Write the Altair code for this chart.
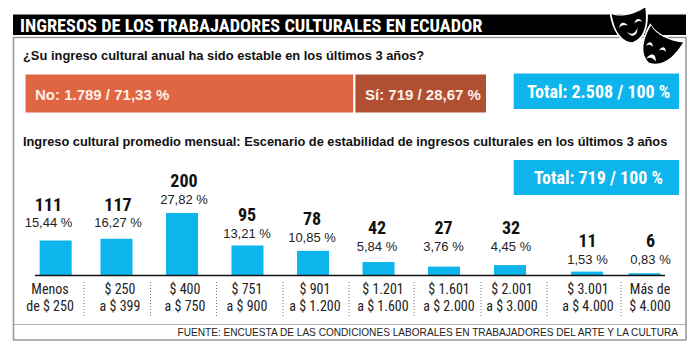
import altair as alt
import pandas as pd

# ---------- data ----------
categories = ["Menos de $ 250", "$ 250 a $ 399", "$ 400 a $ 750", "$ 751 a $ 900", "$ 901 a $ 1.200",
              "$ 1.201 a $ 1.600", "$ 1.601 a $ 2.000", "$ 2.001 a $ 3.000", "$ 3.001 a $ 4.000", "Más de $ 4.000"]
tick_labels = ["Menos\nde $ 250", "$ 250\na $ 399", "$ 400\na $ 750", "$ 751\na $ 900", "$ 901\na $ 1.200",
               "$ 1.201\na $ 1.600", "$ 1.601\na $ 2.000", "$ 2.001\na $ 3.000", "$ 3.001\na $ 4.000", "Más de\n$ 4.000"]
counts = [111, 117, 200, 95, 78, 42, 27, 32, 11, 6]
percents = ["15,44 %", "16,27 %", "27,82 %", "13,21 %", "10,85 %", "5,84 %", "3,76 %", "4,45 %", "1,53 %", "0,83 %"]
answers = ["No", "Sí"]
answer_counts = [1789, 719]
answer_labels = ["No: 1.789 / 71,33 %", "Sí: 719 / 28,67 %"]

df = pd.DataFrame({"cat": categories, "tick": tick_labels, "n": counts, "pct": percents, "i": range(len(categories))})
ans = pd.DataFrame({"a": answers, "n": answer_counts, "label": answer_labels})
ans["start"] = [0, answer_counts[0]]
ans["end"] = [answer_counts[0], answer_counts[0] + answer_counts[1]]

W, H = 684, 337
def X(p): return p - 8
def Y(p): return p - 8

NARROW = "Roboto Condensed"
SANS = "Liberation Sans"
BLUE = "#0DB5EC"
one = pd.DataFrame({"k": [0]})

def box(x0, x1, y0, y1, fill=None, stroke=None, sw=0):
    style = {"color": fill} if fill else {"fillOpacity": 0, "stroke": stroke, "strokeWidth": sw}
    return alt.Chart(one).mark_rect(**style).encode(
        x=alt.value(X(x0)), x2=alt.value(X(x1)), y=alt.value(Y(y0)), y2=alt.value(Y(y1)))

def label(s, x, y, size, font=SANS, bold=True, color="#111111", align="left"):
    return alt.Chart(pd.DataFrame({"t": [s]})).mark_text(
        font=font, fontSize=size, fontWeight="bold" if bold else "normal", color=color,
        align=align, baseline="middle").encode(x=alt.value(X(x)), y=alt.value(Y(y)), text="t:N")

def symbol(path, x, y, size, color, angle=0):
    return alt.Chart(one).mark_point(shape=path, filled=True, color=color, opacity=1, strokeWidth=0,
                                     size=size * size, angle=angle % 360).encode(x=alt.value(X(x)), y=alt.value(Y(y)))

def stops(values, conv):
    return alt.Scale(domain=list(range(len(values))), range=[conv(v) for v in values])

bar_centers = [51, 116.5, 182, 247.5, 313, 378.5, 444, 510, 587, 649]
tick_centers = [50, 120, 185, 247, 315, 383, 449, 512, 588, 650]
n_label_y = [206, 206, 182, 216, 220, 229, 229, 229, 242, 242]
p_label_y = [223, 223, 200, 234, 238, 247, 247, 247, 260, 260]
p_label_x = [48.5, 118, 184, 247, 312, 377, 443.5, 511, 587.5, 650.5]
seps = [84, 150.5, 216.5, 283, 349, 414, 481, 547, 621]

x_bar = alt.X("i:Q", scale=stops(bar_centers, X), axis=None)
x_tick = alt.X("i:Q", scale=stops(tick_centers, X), axis=None)
x_lab = alt.X("i:Q", scale=stops(p_label_x, X), axis=None)
y_val = alt.Y("n:Q", scale=alt.Scale(domain=[0, 200], range=[Y(275), Y(213)]), axis=None)
x_ans = alt.X("start:Q", scale=alt.Scale(domain=[0, 2508], range=[X(24.5), X(487)]), axis=None)

bars = alt.Chart(df).mark_bar(color=BLUE, size=32, orient="vertical").encode(x=x_bar, y=y_val, y2=alt.value(Y(275)))
n_text = alt.Chart(df).mark_text(font=NARROW, fontSize=18, fontWeight="bold", color="#111111").encode(
    x=x_lab, y=alt.Y("i:Q", scale=stops(n_label_y, Y), axis=None), text="n:Q")
p_text = alt.Chart(df).mark_text(font=SANS, fontSize=13, color="#222222").encode(
    x=x_lab, y=alt.Y("i:Q", scale=stops(p_label_y, Y), axis=None), text="pct:N")
tick_text = alt.Chart(df).mark_text(font=NARROW, fontSize=14, color="#222222", lineBreak="\n", lineHeight=17,
                                    baseline="middle").encode(x=x_tick, y=alt.value(Y(290)), text="tick:N")
base_line = alt.Chart(one).mark_rule(color="#111111", strokeWidth=1.5).encode(
    x=alt.value(X(35)), x2=alt.value(X(665)), y=alt.value(Y(275.5)))
sep_rules = alt.Chart(pd.DataFrame({"s": [X(v) for v in seps]})).mark_rule(
    color="#777777", strokeWidth=1, strokeDash=[1, 2]).encode(
    x=alt.X("s:Q", scale=alt.Scale(domain=[0, W], range=[0, W]), axis=None), y=alt.value(Y(282)), y2=alt.value(Y(316)))

ans_bars = alt.Chart(ans).mark_bar(stroke="white", strokeWidth=2).encode(
    x=x_ans, x2="end:Q",
    y=alt.value(Y(73.5)), y2=alt.value(Y(113.5)),
    color=alt.Color("a:N", scale=alt.Scale(domain=answers, range=["#E06543", "#B14F33"]), legend=None))

# masks
mask = "M-1,-0.75 C-0.5,-0.5 0.3,-0.6 1,-1 C1.05,-0.1 0.9,0.75 0.1,1 C-0.6,0.9 -0.95,0.1 -1,-0.75 Z"
eye_l = "M-1,0.4 C-0.5,-0.8 0.5,-0.8 1,0.4 C0.4,-0.1 -0.4,-0.1 -1,0.4 Z"
smile = "M-1,-0.5 C-0.4,0.3 0.4,0.3 1,-0.7 C0.8,0.7 -0.5,1 -1,-0.5 Z"
frown = "M-1,0.7 C-0.5,-0.9 0.6,-0.9 1,0.6 C0.4,0.1 -0.4,0.1 -1,0.7 Z"

layers = [
    box(13, 686, 14.5, 35, fill="#000000"),
    box(13.5, 686, 37.5, 340, stroke="#999999", sw=1.6),
    box(13, 686, 324, 324.8, fill="#999999"),
    label("INGRESOS DE LOS TRABAJADORES CULTURALES EN ECUADOR", 20, 25.5, 18.35, NARROW, color="#FFFFFF"),
    label("¿Su ingreso cultural anual ha sido estable en los últimos 3 años?", 23, 56, 12.9),
    ans_bars,
    label(answer_labels[0], 35, 95, 15, color="#FDF0E8"),
    label(answer_labels[1], 365, 95, 15, color="#FDF0E8"),
    box(513.7, 679, 73.5, 109, fill=BLUE),
    label("Total: 2.508 / 100 %", 527, 93, 18, NARROW, color="#FFFFFF"),
    label("Ingreso cultural promedio mensual: Escenario de estabilidad de ingresos culturales en los últimos 3 años", 23, 142, 12.8),
    box(513.7, 679, 160, 195, fill=BLUE),
    label("Total: 719 / 100 %", 534, 179, 18, NARROW, color="#FFFFFF"),
    bars, base_line, sep_rules, n_text, p_text, tick_text,
    label("FUENTE: ENCUESTA DE LAS CONDICIONES LABORALES EN TRABAJADORES DEL ARTE Y LA CULTURA", 177.5, 333, 10.1, bold=False, color="#222222"),
    symbol(mask, 629.5, 25.5, 38, "#FFFFFF", -4),
    symbol(mask, 629.5, 25.5, 34, "#000000", -4),
    symbol(eye_l, 623, 25, 9, "#FFFFFF", -15),
    symbol(eye_l, 638, 21, 8, "#FFFFFF", -15),
    symbol(smile, 633, 33, 11, "#FFFFFF", -15),
    symbol(mask, 658, 47, 40, "#FFFFFF", 35),
    symbol(mask, 658, 47, 36, "#000000", 35),
    symbol(frown, 650, 44, 7, "#FFFFFF", 15),
    symbol(frown, 663, 49, 7, "#FFFFFF", 15),
    symbol(frown, 652, 57, 10, "#FFFFFF", 20),
]

chart = alt.layer(*layers).resolve_scale(x="independent", y="independent", color="independent").properties(
    width=W, height=H, padding=0, background="white", autosize=alt.AutoSizeParams(type="none")
).configure_view(stroke=None)

chart.save("out.html", embed_options={"renderer": "svg", "actions": False})
